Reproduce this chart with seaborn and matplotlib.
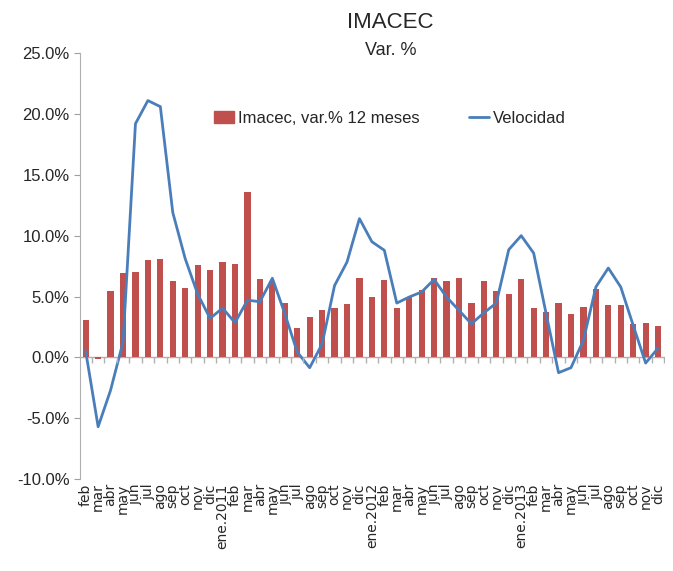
import matplotlib
matplotlib.use("Agg")
import matplotlib.pyplot as plt
from matplotlib.patches import Patch
from matplotlib.lines import Line2D
from matplotlib.ticker import FuncFormatter
import numpy as np
import pandas as pd
import seaborn as sns

months = ["feb", "mar", "abr", "may", "jun", "jul", "ago", "sep", "oct", "nov", "dic",
          "ene.2011", "feb", "mar", "abr", "may", "jun", "jul", "ago", "sep", "oct", "nov", "dic",
          "ene.2012", "feb", "mar", "abr", "may", "jun", "jul", "ago", "sep", "oct", "nov", "dic",
          "ene.2013", "feb", "mar", "abr", "may", "jun", "jul", "ago", "sep", "oct", "nov", "dic"]

imacec = [3.1, -0.1, 5.45, 6.9, 7.0, 7.97, 8.1, 6.3, 5.7, 7.6, 7.2,
          7.85, 7.67, 13.6, 6.4, 6.3, 4.46, 2.4, 3.3, 3.86, 4.08, 4.35, 6.55,
          4.93, 6.35, 4.08, 4.96, 5.56, 6.55, 6.3, 6.55, 4.49, 6.3, 5.42, 5.23,
          6.4, 4.08, 3.72, 4.46, 3.58, 4.13, 5.59, 4.33, 4.33, 2.74, 2.8, 2.6]

velocidad = [0.5, -5.7, -2.7, 1.26, 19.2, 21.1, 20.6, 11.9, 8.1, 5.2, 3.2,
             4.05, 2.85, 4.7, 4.57, 6.5, 3.6, 0.44, -0.85, 1.1, 5.9, 7.83, 11.4,
             9.5, 8.8, 4.46, 4.96, 5.37, 6.4, 4.96, 3.86, 2.76, 3.66, 4.46, 8.85,
             10.0, 8.57, 3.6, -1.26, -0.85, 1.4, 5.78, 7.34, 5.78, 2.63, -0.47, 0.76]

df = pd.DataFrame({"pos": np.arange(len(months)), "mes": months,
                   "imacec": imacec, "velocidad": velocidad})

sns.set_style("white")
plt.rcParams["font.family"] = ["Liberation Sans", "DejaVu Sans"]

bar_color = "#C0504D"
line_color = "#4A7EBB"

fig = plt.figure(figsize=(6.73, 5.71), dpi=100)
ax = fig.add_axes([0.119, 0.161, 0.869, 0.746])

sns.barplot(data=df, x="pos", y="imacec", color=bar_color, width=0.5,
            saturation=1, linewidth=0, ax=ax)
sns.lineplot(data=df, x="pos", y="velocidad", color=line_color, linewidth=2,
             ax=ax)

ax.set_xlim(-0.45, len(months) - 0.45)
ax.set_ylim(-10, 25)
ax.set_yticks(np.arange(-10, 26, 5))
ax.yaxis.set_major_formatter(FuncFormatter(lambda v, _: f"{v:.1f}%"))
ax.tick_params(axis="y", labelsize=12, length=4, color="#a0a0a0", left=True)

ax.set_xticks(df["pos"])
ax.set_xticklabels(months, rotation=90, fontsize=10, family="DejaVu Sans")
ax.tick_params(axis="x", length=0, pad=3)
ax.set_xlabel("")
ax.set_ylabel("")

# category axis line at zero with small ticks between bars
ax.axhline(0, color="#b0b0b0", linewidth=1, zorder=0)
ax.vlines(df["pos"] + 0.5, -0.5, 0, color="#b0b0b0", linewidth=1)

for s in ["top", "right", "bottom"]:
    ax.spines[s].set_visible(False)
ax.spines["left"].set_color("#b0b0b0")

handles = [Patch(color=bar_color, label="Imacec, var.% 12 meses"),
           Line2D([0], [0], color=line_color, linewidth=2, label="Velocidad")]
ax.legend(handles=handles, loc="center", bbox_to_anchor=(0.53, 0.847), ncol=2,
          frameon=False, fontsize=12, handlelength=1.2, handletextpad=0.2,
          columnspacing=3)

fig.text(0.58, 0.960, "IMACEC", ha="center", va="center", fontsize=16)
fig.text(0.58, 0.912, "Var. %", ha="center", va="center", fontsize=13)

fig.savefig("out.png", dpi=100)
